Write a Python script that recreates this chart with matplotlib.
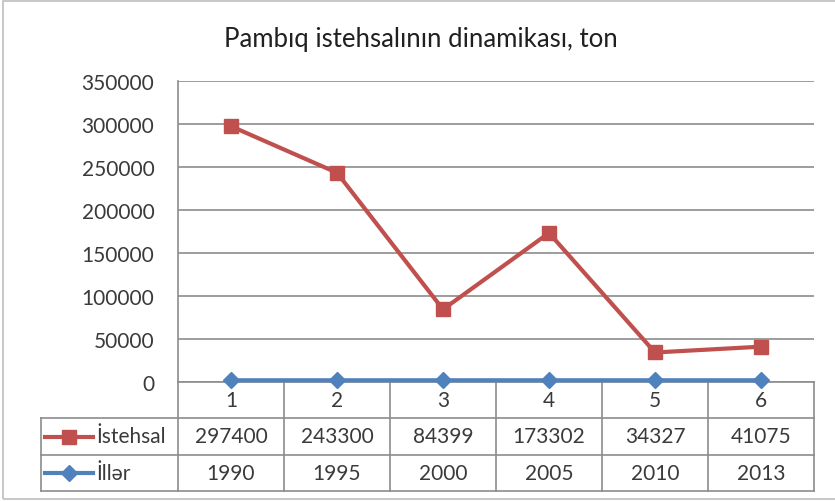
import numpy as np
import matplotlib
matplotlib.use("Agg")
import matplotlib.pyplot as plt
from matplotlib.lines import Line2D
from matplotlib.patches import Rectangle

plt.rcParams['font.family'] = ['Lato', 'DejaVu Sans']

# data
categories = ['1', '2', '3', '4', '5', '6']
istehsal = [297400, 243300, 84399, 173302, 34327, 41075]
iller = [1990, 1995, 2000, 2005, 2010, 2013]
yticks = [0, 50000, 100000, 150000, 200000, 250000, 300000, 350000]

red = '#C0504D'
blue = '#4F81BD'
grid_c = '#8C8C8C'
text_c = '#3A3A3A'

W, H = 835, 502
fig = plt.figure(figsize=(W / 100, H / 100), dpi=100)

# outer chart border
fig.add_artist(Rectangle((3 / W, 1 - 500 / H), 1.0, (500 - 2) / H,
                         transform=fig.transFigure, fill=False,
                         edgecolor='#BFBFBF', linewidth=1.2))

# plot area in pixels
left, right, top, bottom = 178, 814, 82, 383
ax = fig.add_axes([left / W, 1 - bottom / H, (right - left) / W, (bottom - top) / H])

x = np.arange(len(categories))
ax.plot(x, iller, color=blue, linewidth=3, marker='D', markersize=8, zorder=3, clip_on=False)
ax.plot(x, istehsal, color=red, linewidth=3, marker='s', markersize=10, zorder=4, clip_on=False)

fs = 15
ax.set_xlim(-0.5, len(categories) - 0.5)
ax.set_ylim(0, 350000)
ax.set_yticks(yticks)
ax.set_yticklabels([str(v) for v in yticks], fontsize=fs, color=text_c)
ax.tick_params(axis='y', length=0, pad=17)
ax.set_xticks([])
ax.yaxis.grid(True, color=grid_c, linewidth=1.2)
ax.set_axisbelow(True)
for s in ['top', 'right', 'bottom']:
    ax.spines[s].set_visible(False)
ax.spines['left'].set_color(grid_c)
ax.spines['left'].set_linewidth(1.2)

fig.text(421 / W, 1 - 39 / H, 'Pambıq istehsalının dinamikası, ton',
         ha='center', va='center', fontsize=18.5, color='#202020')

# data table below the axis (x in data units, y in axes fraction)
tr = ax.get_xaxis_transform()
ph = bottom - top
def yf(py):
    return -(py - bottom) / ph

col_w = (right - left) / len(categories)
x_tab_left = -0.5 - (left - 41) / col_w
y_rows = [yf(383), yf(419), yf(456), yf(492)]

def tline(xs, ys):
    ax.add_line(Line2D(xs, ys, transform=tr, color=grid_c, linewidth=1.2, clip_on=False))

tline([-0.5, len(categories) - 0.5], [y_rows[0], y_rows[0]])
for yy in y_rows[1:]:
    tline([x_tab_left, len(categories) - 0.5], [yy, yy])
tline([x_tab_left, x_tab_left], [y_rows[1], y_rows[3]])
for b in np.arange(len(categories) + 1) - 0.5:
    tline([b, b], [y_rows[0], y_rows[3]])

for i, c in enumerate(categories):
    ax.text(i, (y_rows[0] + y_rows[1]) / 2, c, transform=tr, ha='center', va='center',
            fontsize=fs, color=text_c)
    ax.text(i, (y_rows[1] + y_rows[2]) / 2, str(istehsal[i]), transform=tr, ha='center',
            va='center', fontsize=fs, color=text_c)
    ax.text(i, (y_rows[2] + y_rows[3]) / 2, str(iller[i]), transform=tr, ha='center',
            va='center', fontsize=fs, color=text_c)

# legend keys inside the table
lx0 = x_tab_left + 4 / col_w
lx1 = x_tab_left + 52 / col_w
for (yy0, yy1), col, mk, ms, lab in [((y_rows[1], y_rows[2]), red, 's', 10, 'İstehsal'),
                                      ((y_rows[2], y_rows[3]), blue, 'D', 8, 'İllər')]:
    yc = (yy0 + yy1) / 2
    ax.add_line(Line2D([lx0, lx1], [yc, yc], transform=tr, color=col, linewidth=3, clip_on=False))
    ax.add_line(Line2D([(lx0 + lx1) / 2], [yc], transform=tr, color=col, marker=mk,
                       markersize=ms, clip_on=False))
    ax.text(lx1 + 3 / col_w, yc, lab, transform=tr, ha='left', va='center',
            fontsize=fs, color=text_c)

fig.savefig('out.png', dpi=100)
